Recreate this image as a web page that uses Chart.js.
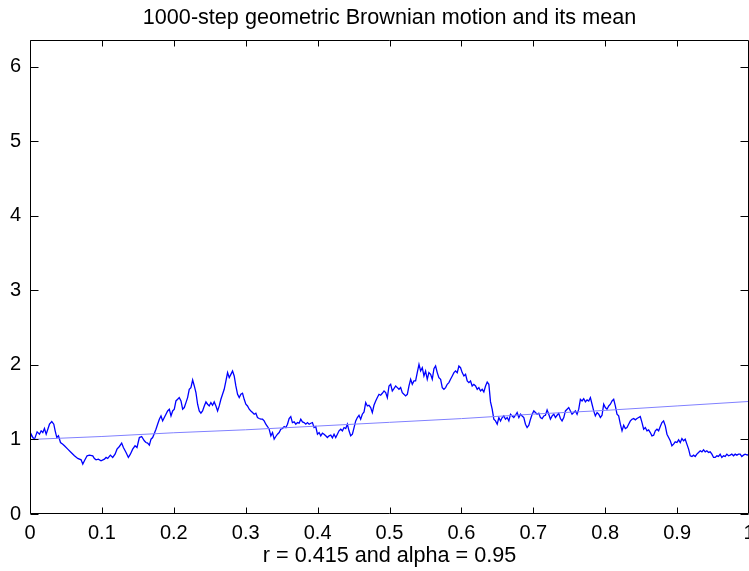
<!DOCTYPE html>
<html>
<head>
<meta charset="utf-8">
<title>1000-step geometric Brownian motion and its mean</title>
<script src="https://cdn.jsdelivr.net/npm/chart.js@4.4.1/dist/chart.umd.min.js"></script>
<style>
  html, body { margin: 0; padding: 0; background: #fff; }
  #wrap { width: 749px; height: 571px; position: relative; }
</style>
</head>
<body>
<div id="wrap"><canvas id="gbm"></canvas></div>
<script>
const chartTitle = '1000-step geometric Brownian motion and its mean';
const xAxisLabel = 'r = 0.415 and alpha = 0.95';

const xTickValues = [0, 0.1, 0.2, 0.3, 0.4, 0.5, 0.6, 0.7, 0.8, 0.9, 1];
const xTickLabels = ['0', '0.1', '0.2', '0.3', '0.4', '0.5', '0.6', '0.7', '0.8', '0.9', '1'];
const yTickValues = [0, 1, 2, 3, 4, 5, 6];
const yTickLabels = ['0', '1', '2', '3', '4', '5', '6'];

// mean curve
const meanTimes = [0, 0.1, 0.2, 0.3, 0.4, 0.5, 0.6, 0.7, 0.8, 0.9, 1];
const meanValues = [1.00, 1.04, 1.09, 1.13, 1.18, 1.23, 1.28, 1.34, 1.39, 1.45, 1.51];

const pathTimes = [
  0, 0.0016, 0.004, 0.0063, 0.0099, 0.0132, 0.0155, 0.0178, 0.0201, 0.0225,
  0.0248, 0.0271, 0.0303, 0.0331, 0.035, 0.0373, 0.0396, 0.0424, 0.0456, 0.0479,
  0.0525, 0.0572, 0.0618, 0.0664, 0.0711, 0.0734, 0.0757, 0.0794, 0.0826, 0.0873,
  0.0896, 0.0919, 0.0951, 0.0988, 0.1035, 0.1058, 0.1081, 0.1118, 0.115, 0.1183,
  0.121, 0.1243, 0.1275, 0.1299, 0.1336, 0.1368, 0.1396, 0.1428, 0.1461, 0.1488,
  0.1521, 0.1553,
  0.1590, 0.1613, 0.1636, 0.1660, 0.1683, 0.1706, 0.1729, 0.1752, 0.1775, 0.1799,
  0.1822, 0.1845, 0.1868, 0.1891, 0.1914, 0.1938, 0.1961, 0.1984, 0.2007, 0.2030,
  0.2053, 0.2076, 0.2100, 0.2123, 0.2146, 0.2169, 0.2192, 0.2215, 0.2238, 0.2262,
  0.2285, 0.2308, 0.2331, 0.2354, 0.2377, 0.2400, 0.2424, 0.2447, 0.2470, 0.2493,
  0.2516, 0.2539, 0.2562, 0.2586, 0.2609, 0.2632, 0.2655, 0.2678, 0.2701, 0.2725,
  0.2748, 0.2771, 0.2794, 0.2817, 0.2840, 0.2863, 0.2887, 0.2910, 0.2933, 0.2956,
  0.2979, 0.3002, 0.3025, 0.3049, 0.3072, 0.3095, 0.3118, 0.3141, 0.3164, 0.3187,
  0.3211, 0.3234,
  0.3257, 0.3280, 0.3303, 0.3326, 0.3350, 0.3373, 0.3396, 0.3419, 0.3442, 0.3465,
  0.3488, 0.3512, 0.3535, 0.3558, 0.3581, 0.3604, 0.3627, 0.3650, 0.3674, 0.3697,
  0.3720, 0.3743, 0.3766, 0.3789, 0.3812, 0.3836, 0.3859, 0.3882, 0.3905, 0.3928,
  0.3951, 0.3974, 0.3998, 0.4021, 0.4044, 0.4067, 0.4090, 0.4113, 0.4136, 0.4160,
  0.4183, 0.4206, 0.4229, 0.4252, 0.4275, 0.4298, 0.4322, 0.4345, 0.4368, 0.4391,
  0.4414, 0.4437, 0.4460, 0.4484, 0.4507, 0.4530, 0.4553, 0.4576, 0.4599, 0.4622,
  0.4646, 0.4669, 0.4692, 0.4715, 0.4738, 0.4761, 0.4784, 0.4808, 0.4831, 0.4854,
  0.4877, 0.4900,
  0.4924, 0.4947, 0.4970, 0.4993, 0.5016, 0.5039, 0.5062, 0.5086, 0.5109, 0.5132,
  0.5155, 0.5178, 0.5201, 0.5224, 0.5248, 0.5271, 0.5294, 0.5317, 0.5340, 0.5363,
  0.5386, 0.5410, 0.5433, 0.5456, 0.5479, 0.5502, 0.5525, 0.5548, 0.5572, 0.5595,
  0.5618, 0.5641, 0.5664, 0.5687, 0.5711, 0.5734, 0.5757, 0.5780, 0.5803, 0.5826,
  0.5849, 0.5873, 0.5896, 0.5919, 0.5942, 0.5965, 0.5988, 0.6011, 0.6035, 0.6058,
  0.6081, 0.6104, 0.6127, 0.6150, 0.6173, 0.6197, 0.6220, 0.6243, 0.6266, 0.6289,
  0.6312, 0.6336, 0.6359, 0.6382, 0.6405, 0.6428, 0.6451, 0.6474, 0.6498, 0.6521,
  0.6544, 0.6567,
  0.6590, 0.6613, 0.6637, 0.6660, 0.6683, 0.6706, 0.6729, 0.6752, 0.6775, 0.6799,
  0.6822, 0.6845, 0.6868, 0.6891, 0.6914, 0.6938, 0.6961, 0.6984, 0.7007, 0.7030,
  0.7053, 0.7076, 0.7099, 0.7123, 0.7146, 0.7169, 0.7192, 0.7215, 0.7238, 0.7262,
  0.7285, 0.7308, 0.7331, 0.7354, 0.7377, 0.7400, 0.7424, 0.7447, 0.7470, 0.7493,
  0.7516, 0.7539, 0.7562, 0.7586, 0.7609, 0.7632, 0.7655, 0.7678, 0.7701, 0.7725,
  0.7748, 0.7771, 0.7794, 0.7817, 0.7840, 0.7863, 0.7887, 0.7910, 0.7933, 0.7956,
  0.7979, 0.8002, 0.8025, 0.8049, 0.8072, 0.8095, 0.8118, 0.8141, 0.8164, 0.8187,
  0.8211, 0.8234,
  0.8257, 0.8280, 0.8303, 0.8326, 0.8350, 0.8373, 0.8396, 0.8419, 0.8442, 0.8465,
  0.8488, 0.8512, 0.8535, 0.8558, 0.8581, 0.8604, 0.8627, 0.8650, 0.8674, 0.8697,
  0.8720, 0.8743, 0.8766, 0.8789, 0.8812, 0.8836, 0.8859, 0.8882, 0.8905, 0.8928,
  0.8951, 0.8974, 0.8998, 0.9021, 0.9044, 0.9067, 0.9090, 0.9113, 0.9136, 0.9160,
  0.9183, 0.9206, 0.9229, 0.9252, 0.9275, 0.9298, 0.9322, 0.9345, 0.9368, 0.9391,
  0.9414, 0.9437, 0.9460, 0.9484, 0.9507, 0.9530, 0.9553, 0.9576, 0.9599, 0.9622,
  0.9646, 0.9669, 0.9692, 0.9715, 0.9738, 0.9761, 0.9784, 0.9808, 0.9831, 0.9854,
  0.9877, 0.9900, 0.9923, 0.9946, 0.9969, 0.9992, 1.0
];
const pathValues = [
  1.0, 1.071, 1.026, 1.004, 1.102, 1.071, 1.116, 1.093, 1.147, 1.071,
  1.138, 1.205, 1.24, 1.205, 1.116, 1.026, 1.049, 0.959, 0.937, 0.915,
  0.87, 0.826, 0.781, 0.745, 0.727, 0.669, 0.714, 0.781, 0.79, 0.781,
  0.745, 0.727, 0.736, 0.714, 0.736, 0.759, 0.745, 0.79, 0.759, 0.803,
  0.87, 0.906, 0.951, 0.892, 0.826, 0.759, 0.803, 0.87, 0.915, 0.892,
  1.026, 1.04,
  0.982, 0.959, 0.951, 0.924, 1.004, 1.026, 1.080, 1.138, 1.205, 1.272,
  1.316, 1.249, 1.294, 1.339, 1.383, 1.406, 1.316, 1.383, 1.406, 1.517,
  1.539, 1.562, 1.517, 1.406, 1.428, 1.495, 1.562, 1.673, 1.696, 1.798,
  1.718, 1.629, 1.473, 1.383, 1.352, 1.383, 1.450, 1.504, 1.473, 1.450,
  1.495, 1.459, 1.504, 1.450, 1.383, 1.450, 1.539, 1.606, 1.673, 1.785,
  1.897, 1.830, 1.874, 1.919, 1.852, 1.718, 1.606, 1.562, 1.606, 1.620,
  1.539, 1.473, 1.450, 1.406, 1.383, 1.361, 1.339, 1.352, 1.294, 1.281,
  1.272, 1.272,
  1.249, 1.205, 1.174, 1.138, 1.049, 1.093, 1.004, 1.040, 1.071, 1.093,
  1.138, 1.147, 1.174, 1.160, 1.205, 1.281, 1.307, 1.227, 1.236, 1.205,
  1.227, 1.218, 1.272, 1.236, 1.227, 1.205, 1.227, 1.205, 1.218, 1.227,
  1.160, 1.174, 1.071, 1.093, 1.049, 1.084, 1.071, 1.049, 1.026, 1.049,
  1.058, 1.022, 1.071, 1.026, 1.071, 1.116, 1.138, 1.116, 1.160, 1.147,
  1.205, 1.116, 1.049, 1.071, 1.160, 1.249, 1.294, 1.325, 1.272, 1.339,
  1.370, 1.495, 1.450, 1.459, 1.428, 1.361, 1.459, 1.517, 1.562, 1.606,
  1.593, 1.620,
  1.651, 1.629, 1.562, 1.718, 1.740, 1.651, 1.682, 1.718, 1.696, 1.673,
  1.696, 1.629, 1.606, 1.584, 1.606, 1.718, 1.807, 1.740, 1.785, 1.785,
  1.897, 2.008, 1.919, 1.963, 1.852, 1.919, 1.807, 1.897, 1.874, 1.807,
  1.950, 1.986, 1.897, 1.830, 1.807, 1.696, 1.673, 1.696, 1.740, 1.763,
  1.807, 1.852, 1.897, 1.919, 1.897, 1.986, 1.963, 1.897, 1.852, 1.874,
  1.785, 1.763, 1.785, 1.718, 1.740, 1.718, 1.673, 1.696, 1.651, 1.673,
  1.638, 1.718, 1.771, 1.740, 1.504, 1.406, 1.272, 1.249, 1.205, 1.294,
  1.249, 1.294,
  1.316, 1.272, 1.294, 1.249, 1.339, 1.316, 1.294, 1.325, 1.361, 1.294,
  1.339, 1.316, 1.294, 1.205, 1.160, 1.191, 1.272, 1.339, 1.383, 1.361,
  1.339, 1.352, 1.294, 1.281, 1.316, 1.325, 1.397, 1.339, 1.272, 1.316,
  1.339, 1.294, 1.325, 1.352, 1.281, 1.249, 1.294, 1.383, 1.406, 1.428,
  1.383, 1.339, 1.361, 1.383, 1.339, 1.406, 1.539, 1.517, 1.548, 1.504,
  1.531, 1.517, 1.562, 1.473, 1.383, 1.316, 1.361, 1.339, 1.294, 1.325,
  1.473, 1.428, 1.406, 1.450, 1.473, 1.517, 1.539, 1.450, 1.339, 1.316,
  1.205, 1.116,
  1.191, 1.147, 1.160, 1.205, 1.249, 1.272, 1.281, 1.263, 1.281, 1.294,
  1.307, 1.227, 1.138, 1.160, 1.116, 1.129, 1.093, 1.049, 1.058, 1.116,
  1.138, 1.116, 1.174, 1.227, 1.249, 1.182, 1.071, 1.026, 0.982, 0.915,
  0.937, 0.968, 0.959, 0.995, 0.959, 1.013, 0.982, 1.004, 0.937, 0.870,
  0.781, 0.772, 0.790, 0.772, 0.803, 0.826, 0.848, 0.834, 0.861, 0.834,
  0.848, 0.826, 0.834, 0.803, 0.759, 0.759, 0.781, 0.772, 0.803, 0.759,
  0.781, 0.772, 0.803, 0.781, 0.790, 0.803, 0.781, 0.803, 0.790, 0.803,
  0.803, 0.772, 0.790, 0.803, 0.795, 0.790, 0.785
];

if (pathTimes.length !== pathValues.length) {
  console.warn('path arrays differ in length', pathTimes.length, pathValues.length);
}

const toPoints = (xs, ys) => xs.map((x, i) => ({ x, y: ys[i] }));

const family = '"Liberation Sans", Arial, Helvetica, sans-serif';
const tickFont = { family, size: 20 };
const labelFont = { family, size: 21.6, lineHeight: 1 };

// MATLAB style box with inward tick marks on all four sides
const boxTicks = {
  id: 'boxTicks',
  afterDraw(chart) {
    const { ctx, chartArea: a, scales: { x, y } } = chart;
    const left = Math.round(a.left) + 0.5;
    const right = Math.round(a.right) - 0.5;
    const top = Math.round(a.top) + 0.5;
    const bottom = Math.round(a.bottom) - 0.5;
    ctx.save();
    ctx.strokeStyle = '#000';
    ctx.lineWidth = 1;
    ctx.beginPath();
    ctx.rect(left, top, right - left, bottom - top);
    xTickValues.forEach(v => {
      const px = Math.round(x.getPixelForValue(v)) + 0.5;
      ctx.moveTo(px, bottom); ctx.lineTo(px, bottom - 6);
      ctx.moveTo(px, top); ctx.lineTo(px, top + 6);
    });
    yTickValues.forEach(v => {
      const py = Math.round(y.getPixelForValue(v)) + 0.5;
      ctx.moveTo(left, py); ctx.lineTo(left + 8, py);
      ctx.moveTo(right, py); ctx.lineTo(right - 8, py);
    });
    ctx.stroke();
    ctx.restore();
  }
};

new Chart(document.getElementById('gbm').getContext('2d'), {
  type: 'line',
  data: {
    datasets: [
      {
        label: 'mean',
        data: toPoints(meanTimes, meanValues),
        borderColor: '#8080ff',
        borderWidth: 1,
        pointRadius: 0,
        tension: 0
      },
      {
        label: 'path',
        data: toPoints(pathTimes, pathValues),
        borderColor: '#0000ff',
        borderWidth: 1.3,
        pointRadius: 0,
        tension: 0
      }
    ]
  },
  options: {
    responsive: true,
    maintainAspectRatio: false,
    animation: false,
    layout: { padding: { left: 0, right: -1, top: 0, bottom: 0 } },
    plugins: {
      legend: { display: false },
      tooltip: { enabled: false },
      title: { display: false }
    },
    scales: {
      // top axis only carries the title so it centres over the plot box
      top: {
        type: 'linear',
        position: 'top',
        min: 0,
        max: 1,
        afterFit: s => { s.height = 40; s.paddingLeft = 0; s.paddingRight = 0; },
        grid: { display: false, drawTicks: false },
        border: { display: false },
        ticks: { display: false },
        title: {
          display: true,
          text: chartTitle,
          color: '#000',
          font: labelFont,
          padding: { top: 7, bottom: 0 }
        }
      },
      x: {
        type: 'linear',
        min: 0,
        max: 1,
        afterBuildTicks: s => { s.ticks = xTickValues.map(v => ({ value: v })); },
        afterFit: s => { s.height = 57; s.paddingLeft = 0; s.paddingRight = 0; },
        grid: { display: false, drawTicks: false },
        border: { display: false },
        ticks: {
          color: '#000',
          font: tickFont,
          padding: 7,
          maxRotation: 0,
          autoSkip: false,
          callback: (v, i) => xTickLabels[i]
        },
        title: {
          display: true,
          text: xAxisLabel,
          color: '#000',
          font: labelFont,
          padding: { top: 0, bottom: 4 }
        }
      },
      y: {
        type: 'linear',
        min: 0,
        max: 6.36,
        afterBuildTicks: s => { s.ticks = yTickValues.map(v => ({ value: v })); },
        afterFit: s => { s.width = 30; s.paddingTop = 0; s.paddingBottom = 0; },
        grid: { display: false, drawTicks: false },
        border: { display: false },
        ticks: {
          color: '#000',
          font: tickFont,
          padding: 9,
          autoSkip: false,
          callback: (v, i) => yTickLabels[i]
        }
      }
    }
  },
  plugins: [boxTicks]
});
</script>
</body>
</html>
